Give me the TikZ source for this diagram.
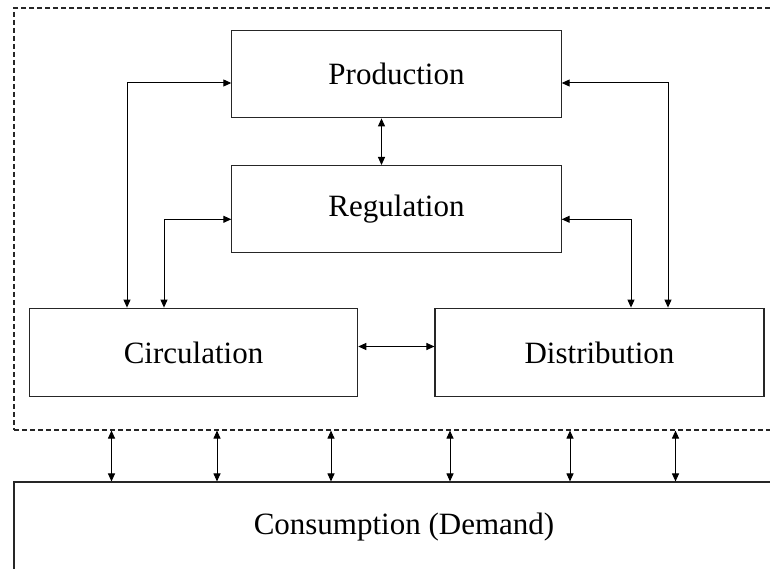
\documentclass[tikz,border=0pt]{standalone}
\usepackage{fontspec}
\setmainfont{Liberation Serif}
\usetikzlibrary{arrows.meta}
\begin{document}
\begin{tikzpicture}[x=1pt,y=-1pt,
  box/.style={draw=black!85,line width=1.1pt,rectangle,inner sep=0pt,font=\fontsize{31}{36}\selectfont},
  frame/.style={draw=black!85,line width=1.1pt,dash pattern=on 5pt off 3pt,rectangle,inner sep=0pt},
  link/.style={draw=black,line width=1pt,{Triangle[length=8pt,width=7pt]}-{Triangle[length=8pt,width=7pt]}}]
\useasboundingbox (0,0) rectangle (770,569);
\clip (0,0) rectangle (770,569);
\fill[white] (0,0) rectangle (770,569);
% system frame
\node[frame,minimum width=771pt,minimum height=422pt] (sys) at (399.5,219) {};
% boxes
\node[box,minimum width=329.3pt,minimum height=87.7pt] (prod) at (396.5,74) {Production};
\node[box,minimum width=329.3pt,minimum height=86.5pt] (reg) at (396.5,208.8) {Regulation};
\node[box,minimum width=328.4pt,minimum height=88.7pt] (circ) at (193.5,352.5) {Circulation};
\node[box,minimum width=329pt,minimum height=88.7pt] (dist) at (599.5,352.5) {Distribution};
\node[box,minimum width=780pt,minimum height=90pt] (cons) at (404,527) {Consumption (Demand)};
% connectors
\draw[link] ([yshift=-9pt]prod.west) -| ([xshift=-66.5pt]circ.north);
\draw[link] ([yshift=-10.5pt]reg.west) -| ([xshift=-29.5pt]circ.north);
\draw[link] ([yshift=-10.5pt]reg.east) -| ([xshift=31.5pt]dist.north);
\draw[link] ([yshift=-9pt]prod.east) -| ([xshift=68.5pt]dist.north);
\draw[link] ([xshift=-15pt]prod.south) -- ([xshift=-15pt]reg.north);
\draw[link] ([yshift=6pt]circ.east) -- ([yshift=6pt]dist.west);
\foreach \x/\n in {111.5/a,217/b,331/c,450/d,570/e,675.5/f}{
  \coordinate (top\n) at (\x,430);
  \draw[link] (sys.south -| top\n) -- (cons.north -| top\n);
}
\end{tikzpicture}
\end{document}
